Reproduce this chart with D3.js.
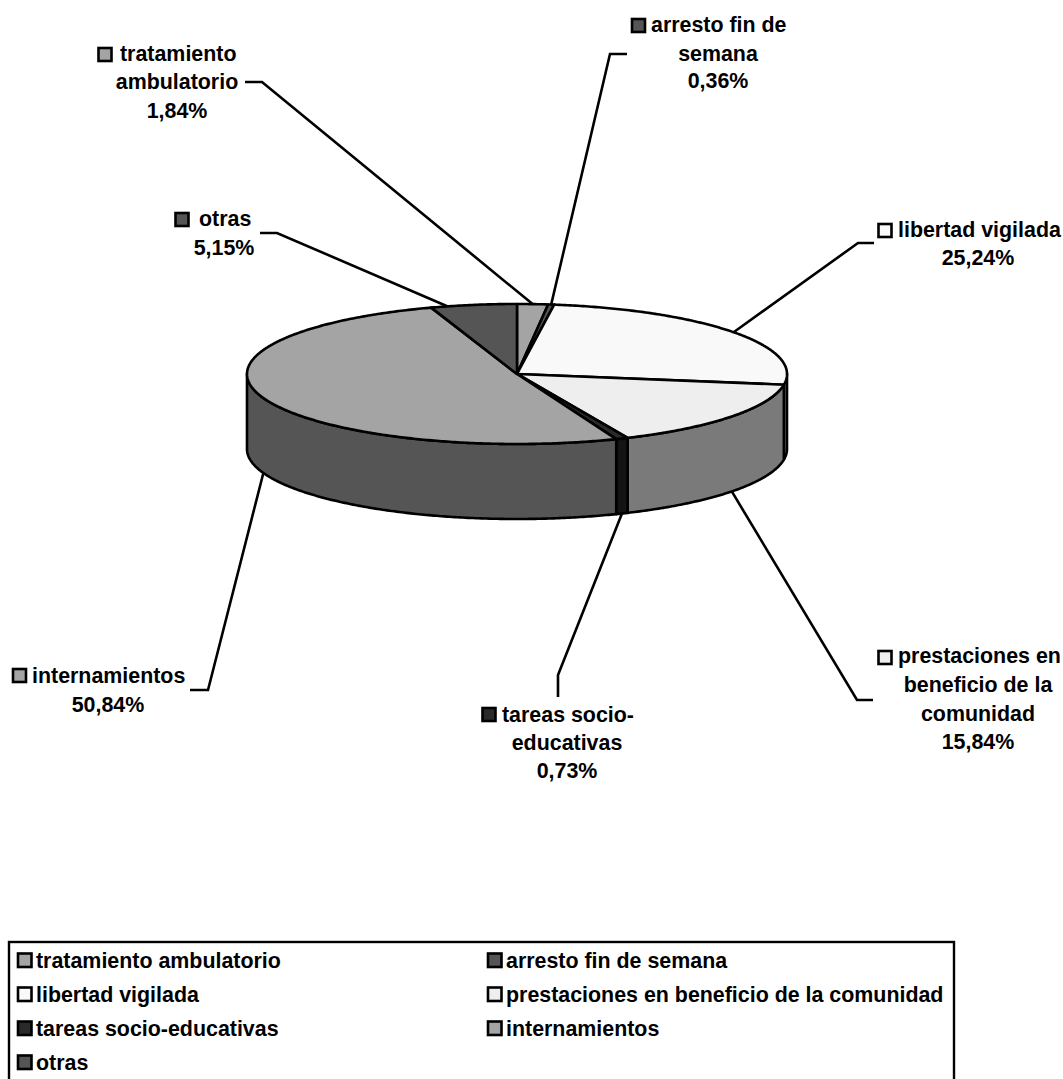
<!DOCTYPE html>
<html><head><meta charset="utf-8">
<script src="https://cdn.jsdelivr.net/npm/d3@7/dist/d3.min.js"></script>
<style>html,body{margin:0;padding:0;background:#fff;overflow:hidden}svg{display:block}text{font-family:"Liberation Sans",Arial,sans-serif;font-weight:bold;font-size:21.4px;fill:#000}</style>
</head><body><svg id="c" width="1063" height="1079"></svg>
<script>
const categories=["tratamiento ambulatorio","arresto fin de semana","libertad vigilada","prestaciones en beneficio de la comunidad","tareas socio-educativas","internamientos","otras"];
const values=[1.84,0.36,25.24,15.84,0.73,50.84,5.15];
const topColors=["#a4a4a4","#555555","#f9f9f9","#eeeeee","#2a2a2a","#a4a4a4","#555555"];
const sideColors=["#7a7a7a","#3a3a3a","#7c7c7c","#7a7a7a","#141414","#555555","#3a3a3a"];
const labelLines=[["tratamiento","ambulatorio","1,84%"],["arresto fin de","semana","0,36%"],["libertad vigilada","25,24%"],["prestaciones en","beneficio de la","comunidad","15,84%"],["tareas socio-","educativas","0,73%"],["internamientos","50,84%"],["otras","5,15%"]];
const labelFirstX=[120,651,898,898,502,32,199];
const labelCenterX=[177,718,978,978,567,108,224];
const labelBaselines=[[61,89,118],[32,61,88],[237,265],[663,692,721,749],[722,750,778],[683,712],[226,255]];
const keyCenters=[[105,54.5],[638.5,25.5],[885,230.5],[885,657.5],[489,714.5],[19.5,675.5],[182,219.5]];
const leaderElbows=[[[245,82],[262,82]],[[627,54],[610,54]],[[874,243],[858,243]],[[873,700],[857,700]],[[558,697],[558,675]],[[190,690],[208,690]],[[260,233],[277,233]]];
const leaderDepth=[1,1,1,1,1,1,0.75];

const svg=d3.select("#c");
const cx=517,cy=374,rx=270,ry=70,depth=75,sw=2.6;
const X=d3.scaleLinear().domain([-1,1]).range([cx-rx,cx+rx]);
const Y=d3.scaleLinear().domain([-1,1]).range([cy-ry,cy+ry]);
const pie=d3.pie().sort(null).value(d=>d).startAngle(0).endAngle(2*Math.PI);
const arcs=pie(values);
const pt=(a,r=1)=>[X(r*Math.sin(a)),Y(-r*Math.cos(a))];
const line=d3.line();
const steps=(a0,a1)=>{const n=Math.max(2,Math.ceil((a1-a0)/0.01));return d3.range(n+1).map(i=>a0+(a1-a0)*i/n);};

arcs.forEach((d,i)=>{
  const m=(d.startAngle+d.endAngle)/2;
  const p=pt(m,leaderDepth[i]);
  const front=Math.cos(m)<0;
  const end=[p[0],p[1]+(front?depth:0)];
  svg.append("path").attr("d",line([...leaderElbows[i],end])).attr("fill","none").attr("stroke","#000").attr("stroke-width",sw);
});

const lo=Math.PI/2,hi=3*Math.PI/2;
arcs.forEach((d,i)=>{
  const a0=Math.max(d.startAngle,lo),a1=Math.min(d.endAngle,hi);
  if(a1<=a0)return;
  const top=steps(a0,a1).map(a=>pt(a));
  const bot=top.map(p=>[p[0],p[1]+depth]).reverse();
  svg.append("path").attr("d",line([...top,...bot])+"Z").attr("fill",sideColors[i]).attr("stroke","#000").attr("stroke-width",sw).attr("stroke-linejoin","round");
});
arcs.forEach((d,i)=>{
  const pts=steps(d.startAngle,d.endAngle).map(a=>pt(a));
  svg.append("path").attr("d",line([[cx,cy],...pts])+"Z").attr("fill",topColors[i]).attr("stroke","#000").attr("stroke-width",sw).attr("stroke-linejoin","round");
});

labelLines.forEach((ls,i)=>{
  ls.forEach((s,j)=>{
    const t=svg.append("text").attr("y",labelBaselines[i][j]).text(s);
    if(j===0)t.attr("x",labelFirstX[i]);
    else t.attr("x",labelCenterX[i]).attr("text-anchor","middle");
  });
  const [kx,ky]=keyCenters[i];
  svg.append("rect").attr("x",kx-6.5).attr("y",ky-6.5).attr("width",13).attr("height",13)
    .attr("fill",topColors[i]).attr("stroke","#000").attr("stroke-width",2.6);
});

svg.append("rect").attr("x",9).attr("y",942).attr("width",945).attr("height",150).attr("fill","none").attr("stroke","#000").attr("stroke-width",2.4);
const legCol=d3.scalePoint().domain([0,1]).range([18,488]);
const legRow=d3.scalePoint().domain([0,1,2,3]).range([960,1062]);
categories.forEach((c,i)=>{
  const x=legCol(i%2),y=legRow(Math.floor(i/2));
  svg.append("rect").attr("x",x).attr("y",y-6.5).attr("width",13.5).attr("height",13.5).attr("fill",topColors[i]).attr("stroke","#000").attr("stroke-width",2.6);
  svg.append("text").attr("x",x+18).attr("y",y+8).text(c);
});
</script></body></html>
